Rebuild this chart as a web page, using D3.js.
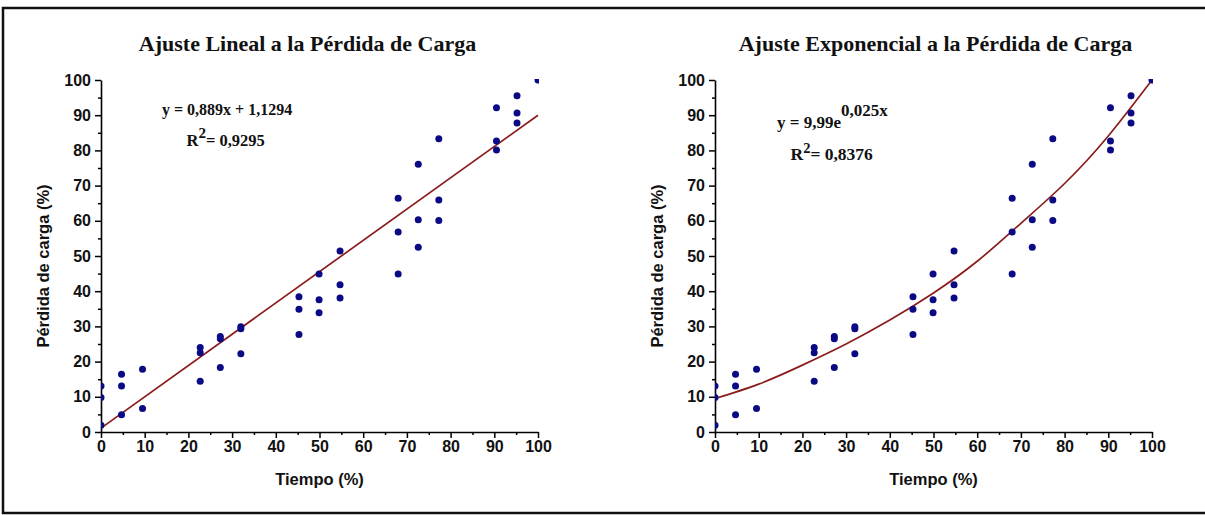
<!DOCTYPE html>
<html>
<head>
<meta charset="utf-8">
<script src="https://cdn.jsdelivr.net/npm/d3@7"></script>
<style>
  html, body { margin: 0; padding: 0; background: #fff; }
  svg { display: block; }
</style>
</head>
<body>
<svg id="chart" width="1205" height="515"></svg>
<script>
// ---- data ----
const timeValues = [0, 0, 0, 4.7, 4.7, 4.7, 9.5, 9.5, 22.7, 22.7, 22.7, 27.3, 27.3, 27.3,
  32.0, 32.0, 32.0, 45.3, 45.3, 45.3, 49.9, 49.9, 49.9, 54.7, 54.7, 54.7,
  68.0, 68.0, 68.0, 72.6, 72.6, 72.6, 77.3, 77.3, 77.3, 90.5, 90.5, 90.5,
  95.2, 95.2, 95.2, 100];
const lossValues = [13.1, 9.8, 1.9, 16.4, 13.1, 4.9, 17.8, 6.7, 24.0, 22.5, 14.4, 27.1, 26.5, 18.3,
  29.9, 29.3, 22.2, 38.4, 34.9, 27.7, 44.9, 37.6, 33.9, 51.4, 41.8, 38.1,
  66.4, 56.8, 44.9, 76.1, 60.3, 52.5, 83.3, 65.9, 60.1, 92.1, 82.7, 80.1,
  95.5, 90.6, 87.8, 100];
const linFitX = [0, 100];
const linFitY = [1.1, 90.0];
const expFitX = [0, 10, 20, 30, 40, 50, 60, 70, 80, 90, 100];
const expFitY = [9.5, 13.6, 19.0, 25.0, 31.8, 39.5, 48.5, 59.3, 70.6, 84.1, 100];
const xTicks = [0, 10, 20, 30, 40, 50, 60, 70, 80, 90, 100];
const yTicks = [0, 10, 20, 30, 40, 50, 60, 70, 80, 90, 100];
const minorTicks = [5, 15, 25, 35, 45, 55, 65, 75, 85, 95];
const titles = ["Ajuste Lineal a la Pérdida de Carga", "Ajuste Exponencial a la Pérdida de Carga"];
const xTitle = "Tiempo (%)";
const yTitle = "Pérdida de carga (%)";

const svg = d3.select("#chart");

// outer frame
svg.append("rect").attr("x", 3).attr("y", 8).attr("width", 1215).attr("height", 505)
  .attr("fill", "none").attr("stroke", "#111").attr("stroke-width", 2.5);

const pointData = timeValues.map((t, i) => ({ x: t, y: lossValues[i] }));

function panel(idx, x0, x1, titleX) {
  const x = d3.scaleLinear().domain([0, 100]).range([x0, x1]);
  const y = d3.scaleLinear().domain([0, 100]).range([432, 80]);
  const g = svg.append("g");

  const clipId = "clip" + idx;
  svg.append("clipPath").attr("id", clipId).append("rect")
    .attr("x", x0).attr("y", 79).attr("width", x1 - x0 + 1).attr("height", 433 - 79);

  // minor ticks
  const xMinor = d3.axisBottom(x).tickValues(minorTicks).tickSize(3).tickFormat("");
  const yMinor = d3.axisLeft(y).tickValues(minorTicks).tickSize(3).tickFormat("");
  g.append("g").attr("transform", `translate(0,${y(0)})`).call(xMinor)
    .call(s => s.select(".domain").remove())
    .call(s => s.selectAll("line").attr("stroke", "#000").attr("stroke-width", 1.5));
  g.append("g").attr("transform", `translate(${x(0)},0)`).call(yMinor)
    .call(s => s.select(".domain").remove())
    .call(s => s.selectAll("line").attr("stroke", "#000").attr("stroke-width", 1.5));

  // major axes
  const xAxis = d3.axisBottom(x).tickValues(xTicks).tickSize(6).tickSizeOuter(0).tickPadding(3);
  const yAxis = d3.axisLeft(y).tickValues(yTicks).tickSize(6).tickSizeOuter(0).tickPadding(4);
  const styleAxis = s => {
    s.select(".domain").attr("stroke", "#000").attr("stroke-width", 1.6);
    s.selectAll("line").attr("stroke", "#000").attr("stroke-width", 1.5);
    s.selectAll("text").attr("fill", "#111")
      .style("font-family", "'Liberation Sans', Arial, sans-serif")
      .style("font-weight", "bold").style("font-size", "16px");
  };
  g.append("g").attr("transform", `translate(0,${y(0)})`).call(xAxis).call(styleAxis);
  g.append("g").attr("transform", `translate(${x(0)},0)`).call(yAxis).call(styleAxis);

  // titles
  g.append("text").attr("x", titleX).attr("y", 51).attr("text-anchor", "middle")
    .style("font-family", "'Liberation Serif', 'Times New Roman', serif")
    .style("font-weight", "bold").style("font-size", "22px").attr("fill", "#111")
    .text(titles[idx]);
  g.append("text").attr("x", (x0 + x1) / 2).attr("y", 485).attr("text-anchor", "middle")
    .style("font-family", "'Liberation Sans', Arial, sans-serif")
    .style("font-weight", "bold").style("font-size", "16.5px").attr("fill", "#111")
    .text(xTitle);
  g.append("text").attr("transform", `translate(${x0 - 52},266) rotate(-90)`)
    .attr("text-anchor", "middle")
    .style("font-family", "'Liberation Sans', Arial, sans-serif")
    .style("font-weight", "bold").style("font-size", "16.5px").attr("fill", "#111")
    .text(yTitle);

  // fit line
  const fx = idx === 0 ? linFitX : expFitX;
  const fy = idx === 0 ? linFitY : expFitY;
  const line = d3.line().x(d => x(d[0])).y(d => y(d[1]))
    .curve(idx === 0 ? d3.curveLinear : d3.curveNatural);
  g.append("path").datum(fx.map((v, i) => [v, fy[i]]))
    .attr("d", line).attr("fill", "none").attr("stroke", "#8b1c1c").attr("stroke-width", 1.7);

  // points
  g.append("g").attr("clip-path", `url(#${clipId})`)
    .selectAll("circle").data(pointData).join("circle")
    .attr("cx", d => x(d.x)).attr("cy", d => y(d.y)).attr("r", 3.5)
    .attr("fill", "#0a0a85");

  return { g, x, y };
}

const p0 = panel(0, 101, 538, 307.5);
const p1 = panel(1, 715, 1152, 935.5);

const serif = "'Liberation Serif', 'Times New Roman', serif";
// left annotation
svg.append("text").attr("x", 162).attr("y", 115)
  .style("font-family", serif).style("font-weight", "bold").style("font-size", "16px").attr("fill", "#111")
  .text("y = 0,889x + 1,1294");
const r0 = svg.append("text").attr("x", 186.5).attr("y", 145.5)
  .style("font-family", serif).style("font-weight", "bold").style("font-size", "16.5px").attr("fill", "#111");
r0.append("tspan").text("R");
r0.append("tspan").attr("dy", -8).style("font-size", "15px").text("2");
r0.append("tspan").attr("dy", 8).text("= 0,9295");

// right annotation
const a1 = svg.append("text").attr("x", 777).attr("y", 128)
  .style("font-family", serif).style("font-weight", "bold").style("font-size", "17px").attr("fill", "#111");
a1.append("tspan").text("y = 9,99e");
a1.append("tspan").attr("dy", -12).style("font-size", "17px").text("0,025x");
const r1 = svg.append("text").attr("x", 790.5).attr("y", 160)
  .style("font-family", serif).style("font-weight", "bold").style("font-size", "17.5px").attr("fill", "#111");
r1.append("tspan").text("R");
r1.append("tspan").attr("dy", -7).style("font-size", "14.5px").text("2");
r1.append("tspan").attr("dy", 7).text("= 0,8376");
</script>
</body>
</html>
